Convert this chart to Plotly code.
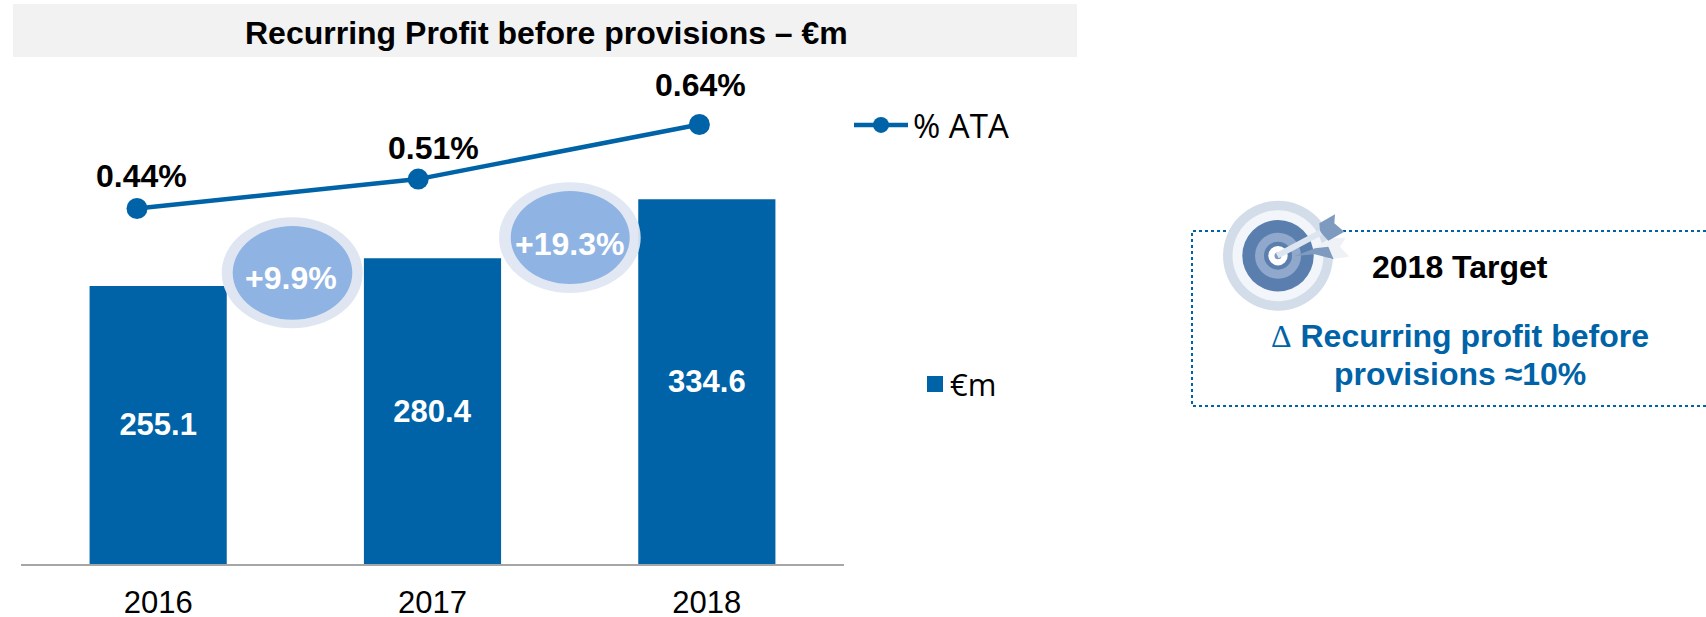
import plotly.graph_objects as go

W, H = 1706, 617

# ---------- data ----------
years = ["2016", "2017", "2018"]
year_nums = [2016, 2017, 2018]
profit_eur_m = [255.1, 280.4, 334.6]
profit_labels = ["255.1", "280.4", "334.6"]
ata_pct = [0.44, 0.51, 0.64]
ata_labels = ["0.44%", "0.51%", "0.64%"]
title_text = "Recurring Profit before provisions – €m"
growth_labels = ["+9.9%", "+19.3%"]
target_title = "2018 Target"
target_line1 = "Recurring profit before"
target_line2 = "provisions ≈10%"

BLUE = "#0063A7"
FONT = "Liberation Sans"


def px(x):
    return x / W


def py(y):
    return 1 - y / H


# ---------- scales ----------
BASE_Y = 564
AX_L, AX_R = 21, 844
PX_PER_EUR = 1.09
LINE_X0, LINE_DX = 137, 281.2
LINE_Y0, LINE_DY = 208.5, 420

fig = go.Figure()

fig.add_trace(go.Bar(
    x=years, y=profit_eur_m, name="€m", width=0.5, showlegend=False,
    marker=dict(color=BLUE, line=dict(width=0)),
    text=profit_labels, textposition="inside", insidetextanchor="middle",
    textangle=0, constraintext="none",
    insidetextfont=dict(family=FONT, size=31, color="white", weight="bold"),
    xaxis="x", yaxis="y",
))
fig.add_trace(go.Scatter(
    x=year_nums, y=ata_pct, name="% ATA", mode="lines+markers", showlegend=True,
    line=dict(color=BLUE, width=4.5),
    marker=dict(color=BLUE, size=21),
    xaxis="x2", yaxis="y2",
))

shapes = []


def rect(x0, y0, x1, y1, color):
    shapes.append(dict(type="rect", xref="paper", yref="paper", x0=px(x0), x1=px(x1),
                       y0=py(y0), y1=py(y1), fillcolor=color, line=dict(width=0), layer="below"))


def ellipse(x0, y0, x1, y1, color, layer="above"):
    shapes.append(dict(type="circle", xref="paper", yref="paper", x0=px(x0), x1=px(x1),
                       y0=py(y0), y1=py(y1), fillcolor=color, line=dict(width=0), layer=layer))


def poly(points, color, closed=True, line=None):
    d = "M " + " L ".join(f"{px(x):.5f},{py(y):.5f}" for x, y in points) + (" Z" if closed else "")
    shapes.append(dict(type="path", xref="paper", yref="paper", path=d,
                       fillcolor=color if closed else "rgba(0,0,0,0)",
                       line=line or dict(width=0), layer="above"))


# title band
rect(13, 4, 1077, 57, "#F2F2F2")

# €m key swatch
rect(927, 376, 943, 392, BLUE)

# growth bubbles
ellipse(221.7, 217.3, 362.7, 328.3, "#DFE6F2")
ellipse(232.7, 226, 352.3, 319.7, "#8FB4E3")
ellipse(499, 182.3, 640.7, 293, "rgba(223,230,242,0.92)")
ellipse(510.7, 191, 629.7, 284, "#8FB4E3")

# target box (open on the right, runs off the page)
poly([(1706, 231), (1192, 231), (1192, 406), (1706, 406)], "", closed=False,
     line=dict(color=BLUE, width=2, dash="dot"))

# target icon
ICX, ICY = 1278, 255.7
for r, c in [(55, "#D3DDEA"), (45.5, "#F2F5F9"), (35.7, "#5A7FAE"), (23, "#8FA8CB"),
             (14, "#5A7FAE"), (9.7, "#FFFFFF"), (3.5, "#7F9ABF")]:
    ellipse(ICX - r, ICY - r, ICX + r, ICY + r, c)


def ic(x, y):
    return (1215 + x / 3, 190 + y / 3)


poly([ic(*p) for p in [(295, 175), (345, 145), (392, 143), (375, 170), (403, 200), (345, 208), (320, 190)]], "#EEF2F7")
poly([ic(*p) for p in [(240, 198), (300, 175), (340, 170), (356, 208), (300, 193)]], "#7F9ABF")
poly([ic(*p) for p in [(313, 100), (360, 73), (358, 100), (388, 125), (340, 152), (315, 125)]], "#7F9ABF")
poly([ic(187, 197), ic(318, 127)], "", closed=False, line=dict(color="#DDE5F0", width=6))

# ---------- text ----------
annotations = []


def note(text, x, y, size, color="black", bold=True, family=FONT):
    annotations.append(dict(text=f"<b>{text}</b>" if bold else text, xref="paper", yref="paper",
                            x=px(x), y=py(y), xanchor="center", yanchor="middle", showarrow=False,
                            font=dict(family=family, size=size, color=color)))


note(title_text, 546, 32.5, 32)
note(growth_labels[0], 291, 278, 32, "white")
note(growth_labels[1], 569, 244, 32, "white")
note(target_title, 1460, 267, 32)
note(f"<span style=\"font-family:'Liberation Serif';font-weight:normal\">Δ</span> <b>{target_line1}</b>",
     1460, 336, 32, BLUE, bold=False)
note(target_line2, 1460, 374, 32, BLUE)
note("€m", 973, 384, 31, bold=False, family="Open Sans")

for yr, v, lab, (dx, dy) in zip(year_nums, ata_pct, ata_labels, [(4, 33), (15, 31), (1, 40)]):
    annotations.append(dict(text=f"<b>{lab}</b>", xref="x2", yref="y2", x=yr, y=v,
                            xshift=dx, yshift=dy, showarrow=False, xanchor="center", yanchor="middle",
                            font=dict(family=FONT, size=32, color="black")))

fig.update_layout(
    width=W, height=H, autosize=False,
    margin=dict(l=0, r=0, t=0, b=0),
    paper_bgcolor="white", plot_bgcolor="rgba(0,0,0,0)",
    font=dict(family=FONT, color="black"),
    bargap=0.5,
    shapes=shapes,
    annotations=annotations,
    showlegend=True,
    xaxis=dict(domain=[px(AX_L), px(AX_R)], type="category", showline=True, linecolor="#A6A6A6",
               linewidth=2, ticks="", showgrid=False, zeroline=False, anchor="y", automargin=False,
               tickfont=dict(family=FONT, size=31, color="black"), ticklabelstandoff=10),
    yaxis=dict(domain=[py(BASE_Y), 1], range=[0, BASE_Y / PX_PER_EUR], visible=False, anchor="x",
               showgrid=False, zeroline=False, automargin=False),
    # overlaying axes share the domain of the axes they overlay
    xaxis2=dict(range=[2016 + (AX_L - LINE_X0) / LINE_DX, 2016 + (AX_R - LINE_X0) / LINE_DX],
                overlaying="x", anchor="y2", visible=False, showgrid=False, zeroline=False),
    yaxis2=dict(range=[0.44 + (LINE_Y0 - BASE_Y) / LINE_DY, 0.44 + LINE_Y0 / LINE_DY],
                overlaying="y", anchor="x2", visible=False, showgrid=False, zeroline=False),
    legend=dict(x=px(849), y=py(125), xanchor="left", yanchor="middle", itemwidth=54,
                bgcolor="rgba(0,0,0,0)", font=dict(family="Open Sans", size=33, color="black")),
    hovermode=False,
)

fig.write_html("out.html", config=dict(displayModeBar=False),
               post_script="document.body.style.margin='0';")
